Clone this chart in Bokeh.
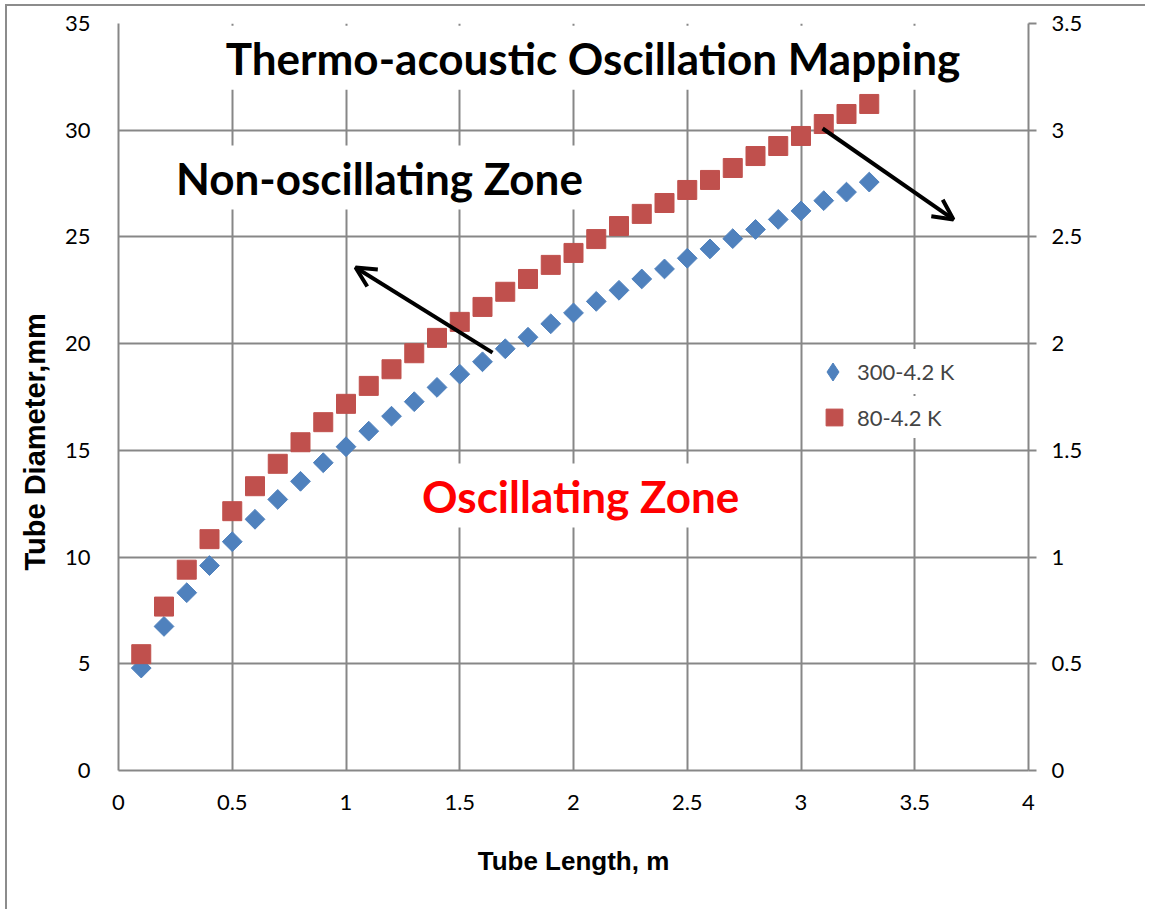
import math
from bokeh.plotting import figure
from bokeh.models import (Range1d, LinearAxis, FixedTicker, CustomJSTickFormatter, Label, Title,
                          Arrow, OpenHead, Legend, LegendItem, ColumnDataSource)
from bokeh.embed import file_html
from bokeh.resources import INLINE

# ---------------- data ----------------
tube_length_m = [0.1, 0.2, 0.3, 0.4, 0.5, 0.6, 0.7, 0.8, 0.9, 1.0, 1.1,
                 1.2, 1.3, 1.4, 1.5, 1.6, 1.7, 1.8, 1.9, 2.0, 2.1, 2.2,
                 2.3, 2.4, 2.5, 2.6, 2.7, 2.8, 2.9, 3.0, 3.1, 3.2, 3.3]
diam_300_42K = [4.8, 6.75, 8.33, 9.6, 10.72, 11.77, 12.7, 13.55, 14.42, 15.17, 15.9,
                16.6, 17.28, 17.95, 18.57, 19.15, 19.76, 20.3, 20.93, 21.44, 21.98, 22.5,
                23.03, 23.5, 24.0, 24.44, 24.92, 25.35, 25.82, 26.22, 26.7, 27.1, 27.57]
diam_80_42K = [5.45, 7.68, 9.41, 10.84, 12.15, 13.32, 14.37, 15.38, 16.32, 17.18, 18.02,
               18.8, 19.55, 20.27, 21.02, 21.72, 22.43, 23.03, 23.69, 24.25, 24.9, 25.51,
               26.08, 26.59, 27.2, 27.67, 28.23, 28.79, 29.26, 29.73, 30.29, 30.76, 31.23]
series_names = ["300-4.2 K", "80-4.2 K"]
x_ticks = [0, 0.5, 1, 1.5, 2, 2.5, 3, 3.5, 4]
y_ticks = [0, 5, 10, 15, 20, 25, 30, 35]
y2_ticks = [0, 0.5, 1, 1.5, 2, 2.5, 3, 3.5]
title_text = "Thermo-acoustic Oscillation Mapping"
non_osc_text = "Non-oscillating Zone"
osc_text = "Oscillating  Zone"
x_title = "Tube Length, m"
y_title = "Tube Diameter,mm"

# ---------------- styling ----------------
GRID = "#878787"
BLUE = "#4F81BD"
RED = "#C0504D"
TICK_FONT = "Lato"
TEXT_FONT = "Lato"
AXIS_TITLE_FONT = "Liberation Sans"

src = ColumnDataSource(dict(x=tube_length_m, a=diam_300_42K, b=diam_80_42K))

p = figure(width=1140, height=905, x_range=Range1d(0, 4), y_range=Range1d(0, 35),
           output_backend="svg", toolbar_location=None,
           min_border_left=111, min_border_right=119, min_border_top=17, min_border_bottom=141)
p.styles = {"margin-left": "5px", "margin-top": "4px",
            "border-top": "2px solid #8c8c8c", "border-left": "2px solid #8c8c8c"}
p.outline_line_color = None
p.background_fill_color = "white"
p.border_fill_color = "white"
p.extra_y_ranges = {"right": Range1d(0, 3.5)}

fmt = CustomJSTickFormatter(code="return tick.toString()")

# bottom axis
xa = p.xaxis[0]
xa.ticker = FixedTicker(ticks=x_ticks)
xa.formatter = fmt
xa.axis_line_color = GRID
xa.axis_line_width = 2
xa.major_tick_line_color = None
xa.minor_tick_line_color = None
xa.major_label_standoff = 18
xa.major_label_text_font = TICK_FONT
xa.major_label_text_font_size = "22px"
xa.major_label_text_color = "black"
xa.axis_label = x_title
xa.axis_label_text_font = AXIS_TITLE_FONT
xa.axis_label_text_font_style = "bold"
xa.axis_label_text_font_size = "26px"
xa.axis_label_text_color = "black"
xa.axis_label_standoff = 33

# left axis
ya = p.yaxis[0]
ya.ticker = FixedTicker(ticks=y_ticks)
ya.axis_line_color = GRID
ya.axis_line_width = 2
ya.major_tick_line_color = None
ya.minor_tick_line_color = None
ya.major_label_standoff = 22
ya.major_label_text_font = TICK_FONT
ya.major_label_text_font_size = "22px"
ya.major_label_text_color = "black"

# y title, set lower than the frame centre as in the original
p.add_layout(Title(text=y_title, align="left", offset=200, vertical_align="top", standoff=18,
                   text_font=AXIS_TITLE_FONT, text_font_style="bold",
                   text_font_size="29px", text_color="black"), "left")

# right axis
ra = LinearAxis(y_range_name="right", ticker=FixedTicker(ticks=y2_ticks), formatter=fmt)
ra.axis_line_color = GRID
ra.axis_line_width = 2
ra.major_tick_line_color = GRID
ra.major_tick_line_width = 2
ra.major_tick_in = 0
ra.major_tick_out = 8
ra.minor_tick_line_color = None
ra.major_label_standoff = 15
ra.major_label_text_font = TICK_FONT
ra.major_label_text_font_size = "22px"
ra.major_label_text_color = "black"
p.add_layout(ra, "right")

# grids
p.xgrid.ticker = FixedTicker(ticks=x_ticks)
p.ygrid.ticker = FixedTicker(ticks=y_ticks)
for g in (p.xgrid[0], p.ygrid[0]):
    g.grid_line_color = GRID
    g.grid_line_width = 2

# data
# legend key for the diamond series: same points, drawn first and fully hidden
# beneath the turned squares below
r_blue_key = p.scatter("x", "a", source=src, marker="diamond", size=14,
                       fill_color=BLUE, line_color=BLUE)
r_blue = p.scatter("x", "a", source=src, marker="square", angle=math.pi / 4, size=14,
                   fill_color=BLUE, line_color=BLUE)
r_red = p.scatter("x", "b", source=src, marker="square", size=19,
                  fill_color=RED, line_color=RED)

# legends (two, so each marker gets its own swatch size)
leg1 = Legend(items=[LegendItem(label=series_names[0], renderers=[r_blue_key])],
              location=(692, 376), glyph_width=45, glyph_height=45, label_standoff=2,
              padding=6, margin=0, border_line_color=None, background_fill_color="white",
              background_fill_alpha=1, label_text_font=TEXT_FONT, label_text_font_size="22px")
leg2 = Legend(items=[LegendItem(label=series_names[1], renderers=[r_red])],
              location=(695, 332), glyph_width=42, glyph_height=42, label_standoff=2,
              padding=6, margin=0, border_line_color=None, background_fill_color="white",
              background_fill_alpha=1, label_text_font=TEXT_FONT, label_text_font_size="22px")
p.add_layout(leg2)
p.add_layout(leg1)

# zone labels
def zone_label(x, y, text, color):
    return Label(x=x, y=y, text=text, text_align="center", text_baseline="alphabetic",
                 text_font=TEXT_FONT, text_font_style="bold", text_font_size="44px",
                 text_color=color, background_fill_color="white", padding=6)

p.add_layout(zone_label(2.086, 33.40, title_text, "black"))
p.add_layout(zone_label(1.147, 27.78, non_osc_text, "black"))
p.add_layout(zone_label(2.055, 12.88, osc_text, "#FF0000"))

# arrows
p.add_layout(Arrow(x_start=1.644, y_start=19.58, x_end=1.042, y_end=23.57,
                   line_color="black", line_width=4,
                   end=OpenHead(size=20, line_width=4, line_color="black")))
p.add_layout(Arrow(x_start=3.095, y_start=30.08, x_end=3.670, y_end=25.82,
                   line_color="black", line_width=4,
                   end=OpenHead(size=20, line_width=4, line_color="black")))

open("out.html", "w").write(file_html(p, INLINE))
